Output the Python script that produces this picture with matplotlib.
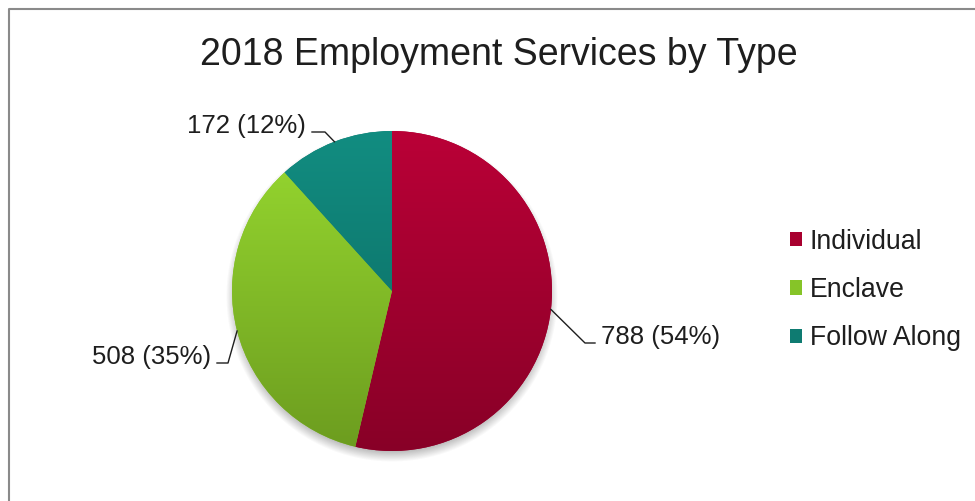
import numpy as np
import matplotlib.pyplot as plt
from matplotlib.colors import LinearSegmentedColormap
from matplotlib.patches import Patch

plt.rcParams['font.family'] = ['Liberation Sans', 'DejaVu Sans']

categories = ["Individual", "Enclave", "Follow Along"]
counts = [788, 508, 172]
top_colors = ["#BA0037", "#98DA30", "#128D81"]
bottom_colors = ["#880027", "#6C9C1F", "#0A665E"]
legend_colors = ["#A8002F", "#86C428", "#0E7B71"]

W, H = 975, 501
cx, cy, r = 392, H - 291, 160
text_color = "#1e1e1e"

fig = plt.figure(figsize=(W / 100, H / 100), dpi=100)
ax = fig.add_axes([0, 0, 1, 1])

# soft drop shadow under the pie
yy, xx = np.mgrid[0:H, 0:W] + 0.5
d = np.hypot(xx - cx, yy - (cy - 5))
shadow = np.zeros((H, W, 4))
shadow[..., :3] = 0.35
shadow[..., 3] = np.clip((r + 6 - d) / 12, 0, 1) * 0.45
ax.imshow(shadow, extent=(0, W, 0, H), origin='lower', zorder=1)

wedges, _ = ax.pie(counts, center=(cx, cy), radius=r, startangle=90,
                   counterclock=False, colors=legend_colors,
                   wedgeprops=dict(linewidth=0))

# vertical gradient fill clipped to each wedge
grad = np.linspace(0, 1, 256).reshape(-1, 1)
for w, c_top, c_bot in zip(wedges, top_colors, bottom_colors):
    w.set_zorder(2)
    cmap = LinearSegmentedColormap.from_list('', [c_bot, c_top])
    im = ax.imshow(grad, cmap=cmap, extent=(cx - r, cx + r, cy - r, cy + r),
                   origin='lower', aspect='auto', zorder=3)
    im.set_clip_path(w)

# data labels with elbow leader lines: (elbow x, elbow y, end x, side)
leaders = [(585, 343, 595, 'left'), (228, 363, 217, 'right'), (325, 132, 312, 'right')]
total = sum(counts)
theta = 90.0
for v, (ex, ey, tx, side) in zip(counts, leaders):
    sweep = 360.0 * v / total
    mid = np.radians(theta - sweep / 2)
    theta -= sweep
    px, py = cx + r * np.cos(mid), cy + r * np.sin(mid)
    ax.plot([px, ex, tx], [py, H - ey, H - ey], color=text_color, lw=1.0, zorder=4)
    label = f"{v} ({round(100 * v / total)}%)"
    if side == 'left':
        ax.text(tx + 6, H - ey - 1, label, ha='left', va='baseline',
                fontsize=18.5, color=text_color)
    else:
        ax.text(tx - 6, H - ey - 1, label, ha='right', va='baseline',
                fontsize=18.5, color=text_color)

ax.text(499, H - 65, "2018 Employment Services by Type", ha='center', va='baseline',
        fontsize=27, color=text_color)

handles = [Patch(facecolor=c, edgecolor='none') for c in legend_colors]
ax.legend(handles, categories, loc='center left', bbox_to_anchor=(790 / W, 1 - 290 / H),
          frameon=False, fontsize=19.2, handlelength=0.45, handleheight=0.45,
          handletextpad=0.3, labelspacing=0.84, borderpad=0, borderaxespad=0,
          labelcolor=text_color)

# chart area border
ax.plot([9, 9, W + 5], [-5, H - 9, H - 9], color='#8a8a8a', lw=1.5, zorder=5)

ax.set_xlim(0, W)
ax.set_ylim(0, H)
ax.axis('off')

fig.savefig('out.png', dpi=100)
